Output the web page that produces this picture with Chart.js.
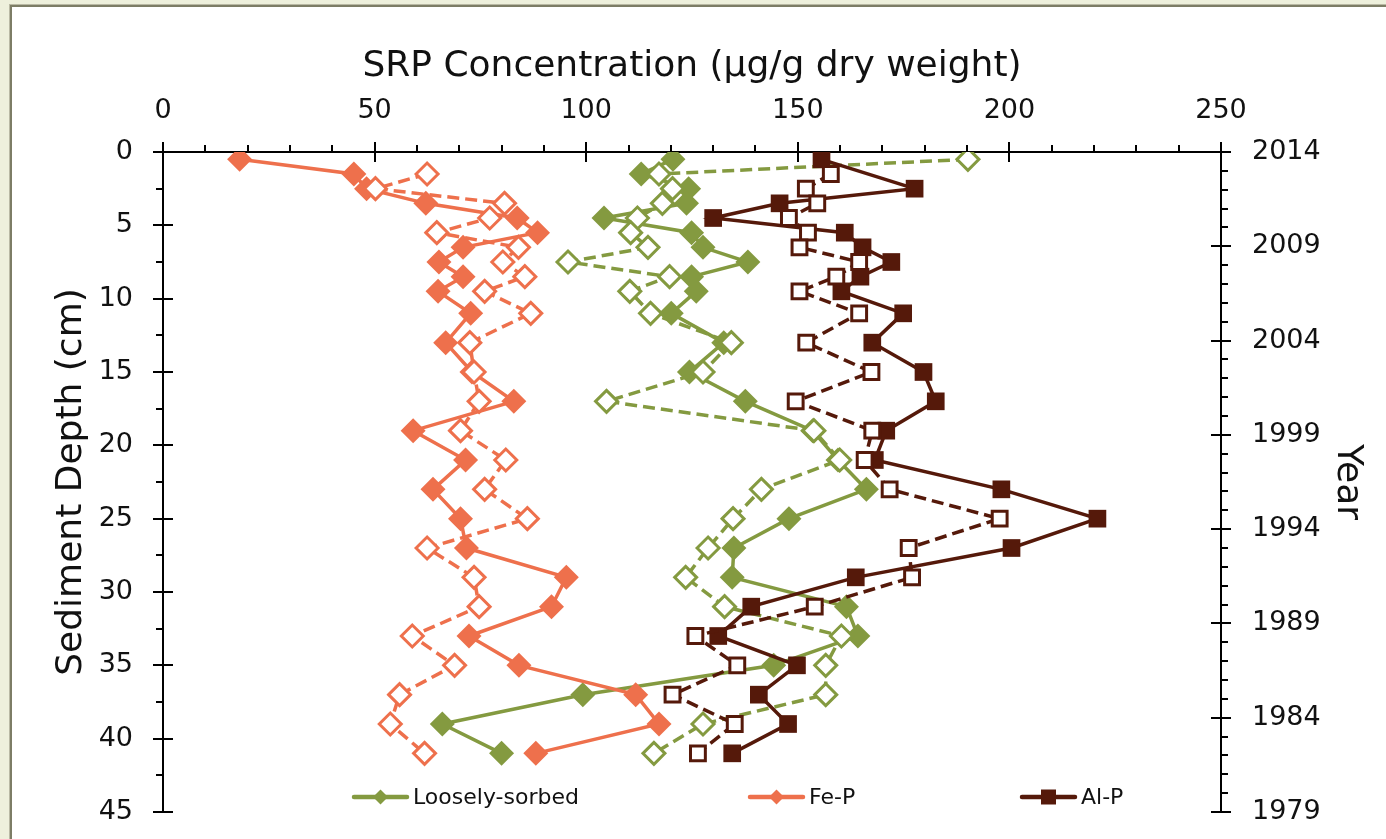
<!DOCTYPE html>
<html>
<head>
<meta charset="utf-8">
<title>SRP Concentration</title>
<script src="https://cdn.jsdelivr.net/npm/chart.js@4.4.0/dist/chart.umd.min.js"></script>
<style>
  html, body { margin: 0; padding: 0; }
  body { width: 1386px; height: 839px; background: #eef0dc; position: relative; overflow: hidden; }
  #panel {
    position: absolute; left: 10px; top: 5px; width: 1400px; height: 860px;
    background: #fff; border-left: 2px solid #7d7d66; border-top: 2px solid #7d7d66;
    box-shadow: -1px -1px 0 #b9b9a4;
  }
  #wrap { position: absolute; left: 0; top: 0; width: 1386px; height: 839px; }
</style>
</head>
<body>
<div id="panel"></div>
<div id="wrap"><canvas id="srp"></canvas></div>
<script>
// sample depths (cm), shared by every profile
const depthCm = [0.5, 1.5, 2.5, 3.5, 4.5, 5.5, 6.5, 7.5, 8.5, 9.5, 11, 13, 15, 17, 19, 21, 23, 25, 27, 29, 31, 33, 35, 37, 39, 41];

// SRP fractions in ug/g dry weight, one value per depth (null = not sampled)
const looselySorbed  = [120.5, 113.0, 124.2, 123.7, 104.2, 124.9, 127.6, 138.2, 124.9, 126.0, 120.1, 132.5, 124.4, 137.6, 153.5, 159.5, 166.2, 147.9, 134.9, 134.5, 161.5, 164.2, 144.3, 99.2, 66.0, 80.0];
const looselySorbed2 = [190.2, 117.2, 120.4, 118.0, 112.1, 110.5, 114.6, 95.7, 119.7, 110.3, 115.2, 134.3, 127.6, 104.8, 153.8, 159.9, 141.4, 134.7, 128.8, 123.5, 132.7, 160.3, 156.6, 156.6, 127.6, 116.0];
const feP  = [18.1, 45.1, 48.1, 62.1, 83.7, 88.5, 70.9, 65.2, 70.9, 65.0, 72.7, 66.8, 73.0, 82.9, 59.1, 71.5, 63.8, 70.3, 71.7, 95.3, 91.8, 72.3, 84.1, 111.7, 117.2, 88.1];
const feP2 = [null, 62.4, 50.2, 80.7, 77.2, 64.7, 84.0, 80.3, 85.5, 76.0, 86.9, 72.5, 73.5, 74.7, 70.3, 81.0, 76.0, 86.1, 62.4, 73.5, 74.7, 58.9, 68.9, 55.9, 53.7, 61.8];
const alP  = [155.6, null, 177.6, 145.7, 130.0, 161.1, 165.3, 172.1, 164.8, 160.3, 174.9, 167.6, 179.7, 182.6, 170.9, 168.2, 198.1, 220.8, 200.5, 163.7, 139.0, 131.2, 149.8, 140.8, 147.7, 134.5];
const alP2 = [null, 157.8, 151.9, 154.6, 147.9, 152.4, 150.4, 164.5, 159.1, 150.4, 164.5, 152.0, 167.4, 149.5, 167.6, 165.8, 171.7, 197.7, 176.2, 177.0, 154.0, 125.8, 135.7, 120.4, 135.1, 126.4];

// axis labels
const concTicks  = [0, 50, 100, 150, 200, 250];
const depthTicks = [0, 5, 10, 15, 20, 25, 30, 35, 40, 45];
const yearTicks  = [1979, 1984, 1989, 1994, 1999, 2004, 2009, 2014];
const legendNames = ["Loosely-sorbed", "Fe-P", "Al-P"];

const GREEN = "#849a40";
const ORANGE = "#ee704c";
const BROWN = "#55190a";
const FONT = "'DejaVu Sans', sans-serif";

function toPoints(values) {
  return depthCm
    .map((d, i) => ({ x: values[i], y: d }))
    .filter(p => p.x !== null);
}

function solid(label, values, color, style) {
  return {
    label: label,
    data: toPoints(values),
    showLine: true,
    borderColor: color,
    borderWidth: 3.5,
    pointStyle: style,
    pointRadius: 12.5,
    pointBackgroundColor: color,
    pointBorderColor: color,
    pointBorderWidth: 0,
  };
}

function dashed(label, values, color, style) {
  const square = style === "rect";
  return {
    label: label,
    data: toPoints(values),
    showLine: true,
    borderColor: color,
    borderWidth: 3.5,
    borderDash: [12, 6],
    pointStyle: style,
    pointRadius: square ? 10.5 : 11,
    pointBackgroundColor: "#fff",
    pointBorderColor: color,
    pointBorderWidth: 3,
  };
}

// tick marks: majors cross the axis line, minors sit outside it
const axisTicks = {
  id: "axisTicks",
  afterDraw(chart) {
    const { ctx, chartArea } = chart;
    const { x, y, y2 } = chart.scales;
    ctx.save();
    ctx.strokeStyle = "#000";
    ctx.lineWidth = 2;
    ctx.beginPath();
    for (let v = 0; v <= 250; v += 10) {
      const px = Math.round(x.getPixelForValue(v));
      const major = v % 50 === 0;
      ctx.moveTo(px, chartArea.top - (major ? 10 : 7));
      ctx.lineTo(px, chartArea.top + (major ? 10 : 0));
    }
    for (let v = 0; v <= 45; v += 2.5) {
      const py = Math.round(y.getPixelForValue(v));
      const major = v % 5 === 0;
      ctx.moveTo(chartArea.left - (major ? 10 : 7), py);
      ctx.lineTo(chartArea.left + (major ? 10 : 0), py);
    }
    for (let v = 1979; v <= 2014; v += 1) {
      const py = Math.round(y2.getPixelForValue(v));
      const major = (v - 1979) % 5 === 0;
      ctx.moveTo(chartArea.right - (major ? 10 : 0), py);
      ctx.lineTo(chartArea.right + (major ? 10 : 7), py);
    }
    ctx.stroke();
    ctx.restore();
  }
};

// legend sits inside the plot, one entry per fraction (solid profiles only)
const innerLegend = {
  id: "innerLegend",
  afterDraw(chart) {
    const ctx = chart.ctx;
    const entries = [
      { x: 354, color: GREEN, marker: "diamond" },
      { x: 750, color: ORANGE, marker: "diamond" },
      { x: 1022, color: BROWN, marker: "square" },
    ];
    const yMid = 797;
    ctx.save();
    entries.forEach((e, i) => {
      ctx.strokeStyle = e.color;
      ctx.fillStyle = e.color;
      ctx.lineWidth = 4.5;
      ctx.lineCap = "round";
      ctx.beginPath();
      ctx.moveTo(e.x, yMid);
      ctx.lineTo(e.x + 53, yMid);
      ctx.stroke();
      const cx = e.x + 26.5;
      ctx.beginPath();
      if (e.marker === "diamond") {
        ctx.moveTo(cx, yMid - 7.5);
        ctx.lineTo(cx + 7.5, yMid);
        ctx.lineTo(cx, yMid + 7.5);
        ctx.lineTo(cx - 7.5, yMid);
        ctx.closePath();
      } else {
        ctx.rect(cx - 7.5, yMid - 7.5, 15, 15);
      }
      ctx.fill();
      ctx.fillStyle = "#111";
      ctx.font = "22px " + FONT;
      ctx.textBaseline = "middle";
      ctx.fillText(legendNames[i], e.x + 59, yMid + 1);
    });
    ctx.restore();
  }
};

function fixedTicks(values) {
  return scale => { scale.ticks = values.map(v => ({ value: v })); };
}

// pin the plot box: no label overhang padding from the scales
function fixedSize(prop, size) {
  return scale => {
    scale[prop] = size;
    scale.paddingTop = 0;
    scale.paddingBottom = 0;
    scale.paddingLeft = 0;
    scale.paddingRight = 0;
  };
}

const tickFont = { family: FONT, size: 27 };
const titleFont = { family: FONT, size: 36 };

new Chart(document.getElementById("srp"), {
  type: "scatter",
  data: {
    // first dataset is painted last, so the dashed Al-P profile ends up on top
    datasets: [
      dashed("Al-P (2)", alP2, BROWN, "rect"),
      solid("Al-P", alP, BROWN, "rect"),
      dashed("Fe-P (2)", feP2, ORANGE, "rectRot"),
      solid("Fe-P", feP, ORANGE, "rectRot"),
      dashed("Loosely-sorbed (2)", looselySorbed2, GREEN, "rectRot"),
      solid("Loosely-sorbed", looselySorbed, GREEN, "rectRot"),
    ],
  },
  options: {
    responsive: true,
    maintainAspectRatio: false,
    animation: false,
    events: [],
    layout: { padding: { top: 0, left: 0, right: 0, bottom: 27 } },
    elements: { line: { tension: 0 } },
    plugins: {
      legend: { display: false },
      tooltip: { enabled: false },
    },
    scales: {
      x: {
        type: "linear",
        position: "top",
        min: 0,
        max: 250,
        afterBuildTicks: fixedTicks(concTicks),
        afterFit: fixedSize("height", 152),
        grid: { display: false, drawTicks: false },
        border: { display: true, color: "#000", width: 2 },
        ticks: { color: "#111", padding: 25, font: tickFont },
        title: {
          display: true,
          text: "SRP Concentration (µg/g dry weight)",
          color: "#111",
          font: titleFont,
          padding: { top: 45, bottom: 0 },
        },
      },
      y: {
        type: "linear",
        position: "left",
        reverse: true,
        min: 0,
        max: 45,
        afterBuildTicks: fixedTicks(depthTicks),
        afterFit: fixedSize("width", 163),
        grid: { display: false, drawTicks: false },
        border: { display: true, color: "#000", width: 2 },
        ticks: { color: "#111", padding: 30, font: tickFont },
        title: {
          display: true,
          text: "Sediment Depth (cm)",
          color: "#111",
          font: titleFont,
          padding: { top: 50, bottom: 0 },
        },
      },
      y2: {
        type: "linear",
        position: "right",
        min: 1979,
        max: 2014,
        afterBuildTicks: fixedTicks(yearTicks),
        afterFit: fixedSize("width", 165),
        grid: { display: false, drawTicks: false },
        border: { display: true, color: "#000", width: 2 },
        ticks: { color: "#111", padding: 31, font: tickFont, callback: v => String(v) },
        title: {
          display: true,
          text: "Year",
          color: "#111",
          font: titleFont,
          padding: { top: 17, bottom: 0 },
        },
      },
    },
  },
  plugins: [axisTicks, innerLegend],
});
</script>
</body>
</html>
